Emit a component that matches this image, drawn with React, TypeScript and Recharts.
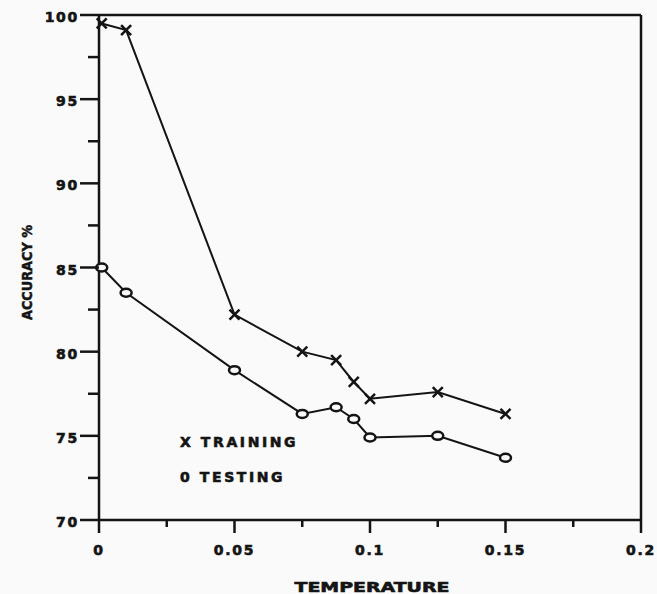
import React from 'react';
import { LineChart, Line, XAxis, YAxis, ReferenceLine } from 'recharts';

// values
const temperature = [0.001, 0.01, 0.05, 0.075, 0.0875, 0.094, 0.1, 0.125, 0.15];
const training = [99.5, 99.1, 82.2, 80.0, 79.5, 78.2, 77.2, 77.6, 76.3];
const testing = [85.0, 83.5, 78.9, 76.3, 76.7, 76.0, 74.9, 75.0, 73.7];

const xTicks = [0, 0.025, 0.05, 0.075, 0.1, 0.125, 0.15, 0.175, 0.2];
const yTicks = [70, 72.5, 75, 77.5, 80, 82.5, 85, 87.5, 90, 92.5, 95, 97.5, 100];

const data = temperature.map((t, i) => ({ t, training: training[i], testing: testing[i] }));

const INK = '#141414';
const FONT = '"DejaVu Sans", Arial, sans-serif';

const isMajor = (v: number, step: number) => Math.abs(v / step - Math.round(v / step)) < 1e-6;

const XTick = (props: any) => {
  const { x, y, payload } = props;
  const major = isMajor(payload.value, 0.05);
  return (
    <g>
      <line x1={x} x2={x} y1={y} y2={y + (major ? 13 : 7)} stroke={INK} strokeWidth={2.5} />
      {major && (
        <text x={x} y={y + 35} textAnchor="middle" fontFamily={FONT} fontWeight="bold"
          fontSize={14} letterSpacing={1.7} fill={INK} stroke={INK} strokeWidth={0.6}>
          {String(payload.value)}
        </text>
      )}
    </g>
  );
};

const YTick = (props: any) => {
  const { x, y, payload } = props;
  const major = isMajor(payload.value, 5);
  return (
    <g>
      <line x1={x} x2={x - (major ? 19 : 11)} y1={y} y2={y} stroke={INK} strokeWidth={2.5} />
      {major && (
        <text x={x - 20} y={y + 7} textAnchor="end" fontFamily={FONT} fontWeight="bold"
          fontSize={14} letterSpacing={1.7} fill={INK} stroke={INK} strokeWidth={0.6}>
          {String(payload.value)}
        </text>
      )}
    </g>
  );
};

const Cross = ({ cx, cy }: { cx: number; cy: number }) => (
  <g stroke={INK} strokeWidth={2.5}>
    <line x1={cx - 5} y1={cy - 5} x2={cx + 5} y2={cy + 5} />
    <line x1={cx - 5} y1={cy + 5} x2={cx + 5} y2={cy - 5} />
  </g>
);

const Ring = ({ cx, cy }: { cx: number; cy: number }) => (
  <ellipse cx={cx} cy={cy} rx={5.5} ry={4} fill="#f9faf9" stroke={INK} strokeWidth={2.5} />
);

const legendText: React.CSSProperties = {
  position: 'absolute',
  left: 180,
  fontFamily: FONT,
  fontWeight: 'bold',
  fontSize: 14,
  letterSpacing: 2.6,
  color: INK,
  lineHeight: '14px',
  whiteSpace: 'nowrap',
  WebkitTextStroke: '0.6px #141414',
};

export default function App() {
  return (
    <div style={{ position: 'absolute', left: 0, top: 0, width: 657, height: 594, background: '#f9faf9' }}>
      <LineChart width={657} height={594} data={data} margin={{ top: 15, right: 16, left: 0, bottom: 0 }}>
        <XAxis
          dataKey="t"
          type="number"
          domain={[0, 0.2]}
          ticks={xTicks}
          interval={0}
          height={74}
          tickSize={0}
          tickMargin={0}
          tickLine={false}
          tick={XTick}
          axisLine={{ stroke: INK, strokeWidth: 2.5 }}
          label={(p: any) => {
            const vb = p.viewBox;
            return (
              <text x={vb.x + vb.width / 2 + 2} y={vb.y + 72} textAnchor="middle" fontFamily={FONT}
                fontWeight="bold" fontSize={14} textLength={155} lengthAdjust="spacingAndGlyphs"
                fill={INK} stroke={INK} strokeWidth={0.6}>
                TEMPERATURE
              </text>
            );
          }}
        />
        <YAxis
          type="number"
          domain={[70, 100]}
          ticks={yTicks}
          interval={0}
          width={99}
          tickSize={0}
          tickMargin={0}
          tickLine={false}
          tick={YTick}
          axisLine={{ stroke: INK, strokeWidth: 2.5 }}
          label={(p: any) => {
            const vb = p.viewBox;
            const cy = vb.y + vb.height / 2 + 5;
            return (
              <text x={32} y={cy} transform={`rotate(-90 32 ${cy})`} textAnchor="middle" fontFamily={FONT}
                fontWeight="bold" fontSize={14} textLength={95} lengthAdjust="spacingAndGlyphs"
                fill={INK} stroke={INK} strokeWidth={0.5}>
                ACCURACY %
              </text>
            );
          }}
        />
        <ReferenceLine y={100} stroke={INK} strokeWidth={2.5} />
        <ReferenceLine x={0.2} stroke={INK} strokeWidth={2.5} />
        <Line
          dataKey="training"
          stroke={INK}
          strokeWidth={2}
          isAnimationActive={false}
          dot={(p: any) => <Cross key={`tr-${p.index}`} cx={p.cx} cy={p.cy} />}
        />
        <Line
          dataKey="testing"
          stroke={INK}
          strokeWidth={2}
          isAnimationActive={false}
          dot={(p: any) => <Ring key={`te-${p.index}`} cx={p.cx} cy={p.cy} />}
        />
      </LineChart>
      <div style={{ ...legendText, top: 435 }}>X TRAINING</div>
      <div style={{ ...legendText, top: 470 }}>0 TESTING</div>
    </div>
  );
}
